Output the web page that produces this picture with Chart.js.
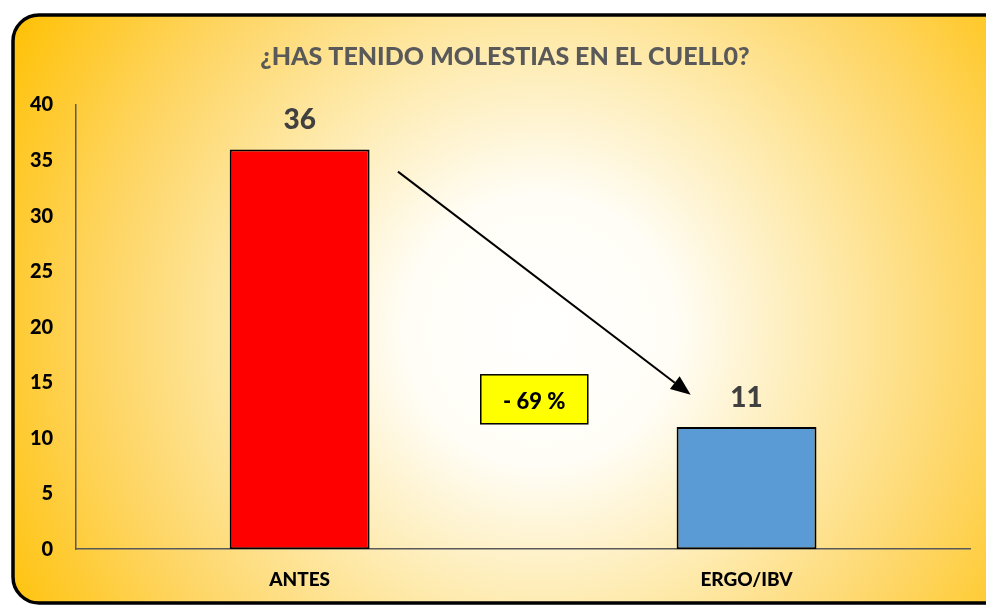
<!DOCTYPE html>
<html>
<head>
<meta charset="utf-8">
<script src="https://cdn.jsdelivr.net/npm/chart.js@4"></script>
<style>
  html, body { margin: 0; padding: 0; background: #ffffff; }
  #wrap { width: 986px; height: 605px; }
</style>
</head>
<body>
<div id="wrap"><canvas id="myChart" width="986" height="605"></canvas></div>
<script>
const categories = ["ANTES", "ERGO/IBV"];
const values = [36, 11];
const barColors = ["#FF0000", "#5B9BD5"];
const yTicks = [0, 5, 10, 15, 20, 25, 30, 35, 40];
const titleText = "¿HAS TENIDO MOLESTIAS EN EL CUELL0?";
const changeText = "- 69 %";

const FONT = "Lato, 'Open Sans', sans-serif";
const HEAVY = "900";

// rounded frame with a radial yellow fill behind everything, plus the heading
const framePlugin = {
  id: "frame",
  beforeDraw(chart) {
    const ctx = chart.ctx;
    const x = 13, y = 15, w = 1000, h = 588, r = 26;
    ctx.save();
    ctx.beginPath();
    ctx.moveTo(x + r, y);
    ctx.lineTo(x + w - r, y);
    ctx.arcTo(x + w, y, x + w, y + r, r);
    ctx.lineTo(x + w, y + h - r);
    ctx.arcTo(x + w, y + h, x + w - r, y + h, r);
    ctx.lineTo(x + r, y + h);
    ctx.arcTo(x, y + h, x, y + h - r, r);
    ctx.lineTo(x, y + r);
    ctx.arcTo(x, y, x + r, y, r);
    ctx.closePath();
    const g = ctx.createRadialGradient(540, 330, 0, 540, 330, 620);
    g.addColorStop(0, "#FFFFFF");
    g.addColorStop(0.22, "#FFFDF5");
    g.addColorStop(0.45, "#FEEBB0");
    g.addColorStop(0.7, "#FED666");
    g.addColorStop(1, "#FFC000");
    ctx.fillStyle = g;
    ctx.fill();
    ctx.lineWidth = 3.5;
    ctx.strokeStyle = "#000000";
    ctx.stroke();

    // heading
    ctx.font = HEAVY + " 25px " + FONT;
    ctx.fillStyle = "#595959";
    ctx.textAlign = "center";
    ctx.textBaseline = "middle";
    ctx.fillText(titleText, chart.width / 2 + 12, 57);
    ctx.restore();
  }
};

// value labels, the arrow and the percentage box
const notesPlugin = {
  id: "notes",
  afterDatasetsDraw(chart) {
    const ctx = chart.ctx;
    const xs = chart.scales.x, ys = chart.scales.y;
    const meta = chart.getDatasetMeta(0);
    ctx.save();
    ctx.font = HEAVY + " 28px " + FONT;
    ctx.fillStyle = "#404040";
    ctx.textAlign = "center";
    ctx.textBaseline = "middle";
    meta.data.forEach((bar, i) => {
      ctx.fillText(String(values[i]), bar.x, bar.y - 29);
    });

    // arrow
    const x1 = xs.getPixelForValue(0.22), y1 = ys.getPixelForValue(34);
    const x2 = xs.getPixelForValue(0.875), y2 = ys.getPixelForValue(13.9);
    ctx.strokeStyle = "#000000";
    ctx.fillStyle = "#000000";
    ctx.lineWidth = 2;
    const ang = Math.atan2(y2 - y1, x2 - x1);
    const head = 20, half = 8;
    const bx = x2 - head * Math.cos(ang), by = y2 - head * Math.sin(ang);
    ctx.beginPath();
    ctx.moveTo(x1, y1);
    ctx.lineTo(bx, by);
    ctx.stroke();
    ctx.beginPath();
    ctx.moveTo(x2, y2);
    ctx.lineTo(bx + half * Math.sin(ang), by - half * Math.cos(ang));
    ctx.lineTo(bx - half * Math.sin(ang), by + half * Math.cos(ang));
    ctx.closePath();
    ctx.fill();

    // box
    const cx = xs.getPixelForValue(0.525), cy = ys.getPixelForValue(13.5);
    const bw = 107, bh = 49;
    ctx.fillStyle = "#FFFF00";
    ctx.fillRect(cx - bw / 2, cy - bh / 2, bw, bh);
    ctx.lineWidth = 1.5;
    ctx.strokeStyle = "#000000";
    ctx.strokeRect(cx - bw / 2, cy - bh / 2, bw, bh);
    ctx.fillStyle = "#000000";
    ctx.font = HEAVY + " 22px " + FONT;
    ctx.fillText(changeText, cx, cy + 3);
    ctx.restore();
  }
};

new Chart(document.getElementById("myChart"), {
  type: "bar",
  data: {
    labels: categories,
    datasets: [{
      data: values,
      backgroundColor: barColors,
      borderColor: "#000000",
      borderWidth: 2,
      borderSkipped: false,
      barPercentage: 0.313,
      categoryPercentage: 1.0
    }]
  },
  options: {
    responsive: false,
    animation: false,
    events: [],
    layout: { padding: { left: 7, right: 16, top: 105, bottom: -5 } },
    plugins: {
      legend: { display: false },
      tooltip: { enabled: false },
      title: { display: false }
    },
    scales: {
      x: {
        grid: { display: false, drawTicks: false },
        border: { display: true, color: "#595959", width: 1.5 },
        ticks: {
          color: "#000000",
          font: { family: FONT, size: 19, weight: HEAVY },
          padding: 19
        }
      },
      y: {
        min: 0,
        max: 40,
        afterBuildTicks(axis) { axis.ticks = yTicks.map(v => ({ value: v })); },
        grid: { display: false, drawTicks: false },
        border: { display: true, color: "#595959", width: 1.5 },
        ticks: {
          color: "#000000",
          font: { family: FONT, size: 20, weight: HEAVY },
          padding: 23
        }
      }
    }
  },
  plugins: [framePlugin, notesPlugin]
});
</script>
</body>
</html>
